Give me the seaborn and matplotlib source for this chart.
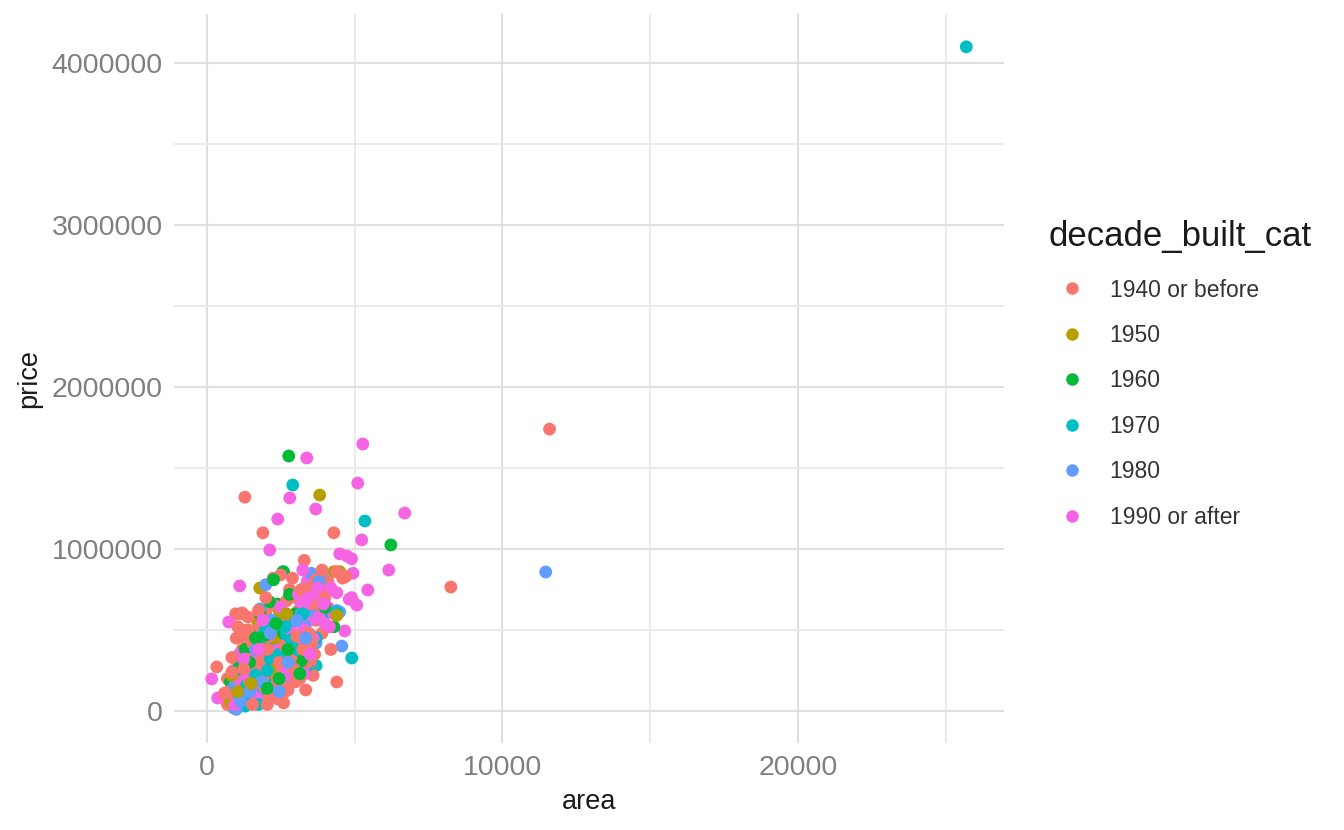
import matplotlib
matplotlib.use("Agg")
import matplotlib.pyplot as plt
import seaborn as sns
import pandas as pd
from matplotlib.ticker import MultipleLocator, FuncFormatter

categories = ["1940 or before", "1950", "1960", "1970", "1980", "1990 or after"]
palette = ["#F8766D", "#B79F00", "#00BA38", "#00BFC4", "#619CFF", "#F564E3"]

area_1940 = [11600, 8260, 1290, 1900, 4300, 340, 3350, 4400, 980, 1200,
             700, 800, 900, 1000, 1100, 1200, 1300, 1400, 1500, 1600,
             1700, 1800, 1900, 2000, 2100, 2200, 2300, 2400, 2500, 2600,
             2700, 2800, 2900, 3000, 3100, 3200, 3300, 3400, 3500, 3600,
             3700, 3800, 3900, 4000, 4100, 4200, 4400, 4600, 2200, 2400,
             2600, 2800, 3000, 1500, 1300, 1100, 900, 1600, 1800, 2000,
             2300, 2500, 2700, 3300, 3500, 3700, 1000, 1200, 1400, 700,
             850, 1700, 1900, 2100, 2900, 3100, 3200, 2400, 2700, 600,
             1400, 1150, 4700, 3900, 3600, 2000, 2250, 1750, 3400, 3000,
             2600, 1900, 1600, 750, 950, 1050, 1250, 1350, 1450, 1550,
             1650, 1850, 1950, 2050, 2150, 2350, 2450, 2550, 2650, 2750,
             2850, 2950, 3050, 3150, 3250, 3450, 3550, 3650, 1050, 1250,
             850, 1550, 2050]
price_1940 = [1740000, 765000, 1320000, 1100000, 1100000, 272000, 130000, 179000, 600000, 605000,
              40000, 80000, 150000, 230000, 300000, 380000, 450000, 500000, 350000, 250000,
              150000, 90000, 60000, 120000, 200000, 280000, 360000, 440000, 520000, 600000,
              680000, 750000, 820000, 700000, 620000, 540000, 460000, 380000, 300000, 220000,
              560000, 640000, 480000, 720000, 800000, 380000, 860000, 820000, 90000, 75000,
              110000, 170000, 240000, 80000, 200000, 120000, 60000, 420000, 520000, 600000,
              650000, 840000, 560000, 930000, 760000, 810000, 450000, 500000, 580000, 200000,
              330000, 300000, 380000, 460000, 400000, 330000, 750000, 180000, 270000, 110000,
              250000, 600000, 830000, 870000, 660000, 700000, 820000, 620000, 300000, 180000,
              50000, 230000, 170000, 120000, 100000, 70000, 140000, 320000, 180000, 420000,
              60000, 300000, 150000, 380000, 100000, 220000, 300000, 150000, 400000, 130000,
              330000, 260000, 460000, 200000, 380000, 480000, 420000, 350000, 520000, 260000,
              240000, 40000, 40000]

area_1950 = [3824, 1794, 4300, 4500, 1730, 1300, 1180, 1100, 1700, 2000,
             2300, 2470, 800, 3000, 1000, 2700, 4400, 1050, 1500, 2150,
             850]
price_1950 = [1333000, 759000, 860000, 860000, 550000, 380000, 300000, 250000, 350000, 540000,
              450000, 611000, 60000, 380000, 200000, 600000, 590000, 120000, 170000, 250000,
              220000]

area_1960 = [2775, 6230, 2570, 2600, 2400, 1750, 1900, 2100, 2300, 2500,
             2700, 2900, 3100, 3300, 3500, 2800, 1600, 1400, 1200, 1000,
             900, 1800, 2130, 3000, 4000, 1300, 2000, 2600, 800, 4300,
             3200, 2260, 1050, 1450, 1650, 2050, 2350, 2750, 3150, 2450]
price_1960 = [1574000, 1025000, 858000, 860000, 660000, 500000, 420000, 380000, 280000, 330000,
              220000, 400000, 560000, 250000, 470000, 720000, 160000, 90000, 200000, 330000,
              130000, 600000, 673000, 600000, 640000, 380000, 470000, 480000, 180000, 520000,
              310000, 810000, 260000, 300000, 450000, 140000, 540000, 380000, 230000, 200000]

area_1970 = [25700, 5350, 4907, 2910, 3700, 2000, 1500, 1700, 1900, 2100,
             2300, 2500, 2700, 2900, 3100, 3300, 3500, 2200, 2400, 2600,
             2800, 1600, 1800, 1200, 1400, 3000, 4000, 3400, 2300, 1900,
             3700, 2000, 1500, 2700, 1300, 4400, 1100, 1350, 1650, 2150,
             2450, 2650, 2850, 3050, 3250, 1750, 2050]
price_1970 = [4100000, 1173000, 327000, 1395000, 280000, 150000, 110000, 300000, 360000, 420000,
              480000, 420000, 380000, 320000, 450000, 520000, 560000, 500000, 550000, 300000,
              250000, 60000, 130000, 200000, 260000, 560000, 600000, 280000, 180000, 470000,
              450000, 520000, 70000, 470000, 30000, 610000, 80000, 160000, 220000, 320000,
              350000, 520000, 440000, 380000, 600000, 40000, 250000]

area_1980 = [11470, 4570, 900, 1000, 1100, 1300, 1500, 1700, 1900, 2100,
             2300, 2500, 2700, 2900, 3100, 3300, 3500, 3700, 3900, 4400,
             2000, 3540, 1800, 1200, 1400, 800, 2600, 3800, 2200, 1600,
             1100, 4500, 3200, 1000, 950, 1150, 1450, 1650, 1850, 2150,
             2450, 2750, 3050, 3350]
price_1980 = [858000, 401000, 20000, 50000, 110000, 170000, 230000, 290000, 350000, 300000,
              250000, 330000, 420000, 480000, 390000, 530000, 620000, 420000, 860000, 620000,
              780000, 850000, 630000, 280000, 330000, 90000, 200000, 800000, 560000, 150000,
              250000, 611000, 600000, 10000, 160000, 60000, 120000, 380000, 180000, 480000,
              120000, 300000, 560000, 450000]

area_1990 = [6700, 6160, 5280, 5110, 5245, 5450, 5076, 4740, 4900, 4950,
             4900, 4820, 3384, 2809, 3689, 2403, 2132, 1117, 745, 4670,
             169, 372, 3800, 3900, 4000, 4100, 3600, 3700, 3500, 3300,
             3200, 3100, 3400, 3000, 2800, 2600, 2400, 2200, 2000, 1800,
             1600, 1400, 1200, 1000, 900, 1100, 4200, 4300, 3800, 4500,
             3250, 2900, 2700, 1500, 1300, 800, 3600, 4000, 2500, 1900,
             2100, 3100, 3300, 950, 1150, 1350, 1700, 2300, 2500, 2700,
             2900, 3100, 3300, 3450, 3750, 3950, 4150, 1750, 1250, 3500,
             4400]
price_1990 = [1222000, 870000, 1648000, 1407000, 1056000, 747000, 654000, 957000, 940000, 850000,
              700000, 690000, 1562000, 1315000, 1247000, 1185000, 994000, 772000, 549000, 494000,
              198000, 80000, 830000, 780000, 700000, 640000, 620000, 700000, 560000, 500000,
              650000, 720000, 800000, 600000, 520000, 450000, 380000, 300000, 250000, 200000,
              150000, 100000, 60000, 180000, 250000, 350000, 760000, 600000, 580000, 970000,
              870000, 350000, 220000, 320000, 280000, 120000, 450000, 540000, 640000, 560000,
              130000, 400000, 230000, 40000, 180000, 230000, 80000, 120000, 250000, 330000,
              480000, 560000, 650000, 700000, 760000, 660000, 520000, 380000, 320000, 350000,
              730000]

series = [
    ("1940 or before", area_1940, price_1940),
    ("1950", area_1950, price_1950),
    ("1960", area_1960, price_1960),
    ("1970", area_1970, price_1970),
    ("1980", area_1980, price_1980),
    ("1990 or after", area_1990, price_1990),
]

frames = []
for name, a, p in series:
    n = len(a)
    frames.append(pd.DataFrame({
        "area": a, "price": p, "decade_built_cat": name,
        "order": [(i + 0.5) / n for i in range(n)],
    }))
df = pd.concat(frames, ignore_index=True).sort_values("order", kind="stable")

sns.set_theme(style="white")
plt.rcParams["font.family"] = ["Liberation Sans", "DejaVu Sans"]

fig = plt.figure(figsize=(13.44, 8.30), dpi=100)
ax = fig.add_axes([174 / 1344, 1 - 742.5 / 830, (1004 - 174) / 1344, (742.5 - 13.7) / 830])

sns.scatterplot(data=df, x="area", y="price", hue="decade_built_cat",
                hue_order=categories, palette=palette, s=85, linewidth=0,
                alpha=1, ax=ax, zorder=3)

# ggplot-style 5% expansion of the data range
xmin, xmax = df["area"].min(), df["area"].max()
ymin, ymax = df["price"].min(), df["price"].max()
ax.set_xlim(xmin - 0.05 * (xmax - xmin), xmax + 0.05 * (xmax - xmin))
ax.set_ylim(ymin - 0.05 * (ymax - ymin), ymax + 0.05 * (ymax - ymin))

ax.xaxis.set_major_locator(MultipleLocator(10000))
ax.xaxis.set_minor_locator(MultipleLocator(5000))
ax.yaxis.set_major_locator(MultipleLocator(1000000))
ax.yaxis.set_minor_locator(MultipleLocator(500000))
fmt = FuncFormatter(lambda v, pos: f"{int(round(v))}")
ax.xaxis.set_major_formatter(fmt)
ax.yaxis.set_major_formatter(fmt)

ax.grid(True, which="major", color="#DFDFDF", linewidth=1.5, zorder=0)
ax.grid(True, which="minor", color="#E9E9E9", linewidth=1.3, zorder=0)
ax.set_axisbelow(True)
for sp in ax.spines.values():
    sp.set_visible(False)
ax.tick_params(axis="both", which="both", length=0, labelsize=20.5, labelcolor="#7F7F7F")
ax.tick_params(axis="x", pad=9)
ax.tick_params(axis="y", pad=8)

ax.set_xlabel("area", fontsize=19.5, color="#1A1A1A", labelpad=6)
ax.set_ylabel("price", fontsize=19.5, color="#1A1A1A", labelpad=7)

sns.move_legend(ax, "upper left", bbox_to_anchor=(1049 / 1344, 1 - 220 / 830),
                bbox_transform=fig.transFigure, frameon=False, borderpad=0,
                borderaxespad=0, title="decade_built_cat", fontsize=16.5,
                title_fontsize=25, handlelength=2.0, handletextpad=0.65,
                labelspacing=0.98, alignment="left")
leg = ax.get_legend()
leg._legend_box.sep = 0.98 * 16.5 + 2.2
leg.get_title().set_color("#1A1A1A")
for t in leg.get_texts():
    t.set_color("#333333")
for h in leg.legend_handles:
    h.set_markersize(9)

fig.savefig("out.png", dpi=100, facecolor="white")
